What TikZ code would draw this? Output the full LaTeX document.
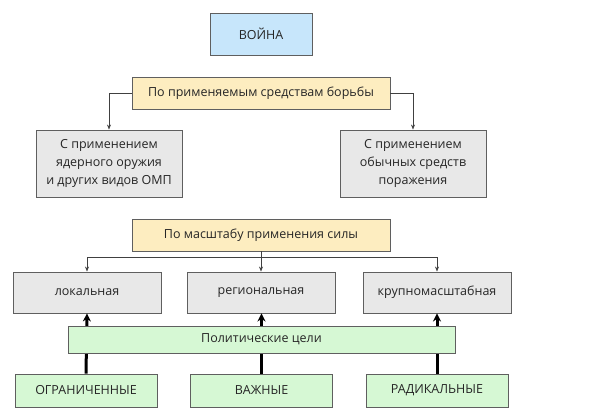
\documentclass[tikz,border=0pt]{standalone}
\usepackage{fontspec}
\setmainfont{Open Sans}
\usetikzlibrary{arrows.meta}
\definecolor{bluefill}{HTML}{C7E6FB}
\definecolor{orfill}{HTML}{FDEDC0}
\definecolor{grfill}{HTML}{E8E8E8}
\definecolor{gnfill}{HTML}{D6F8D4}
\definecolor{bord}{HTML}{5F5F5F}
\definecolor{txt}{HTML}{262626}
\tikzset{
  box/.style={draw=bord, line width=0.9pt, inner sep=0pt, align=center, text=txt, font=\fontsize{12.5}{18}\selectfont},
  thin arrow/.style={draw=black!75, line width=0.6pt, -{Stealth[length=5pt,width=4pt]}},
  thick arrow/.style={draw=black, line width=3pt, -{Stealth[length=8pt,width=8pt]}},
}
\begin{document}
\begin{tikzpicture}[x=1pt,y=-1pt]
\useasboundingbox (0,0) rectangle (600,420);
\node[box, fill=bluefill, minimum width=102pt, minimum height=42pt] (war) at (261,34) {ВОЙНА};
\node[box, fill=orfill, minimum width=258pt, minimum height=32pt] (means) at (261,93) {По применяемым средствам борьбы};
\node[box, fill=grfill, minimum width=146pt, minimum height=67pt] (nuc) at (109,163.5) {С применением\\ядерного оружия\\и других видов ОМП};
\node[box, fill=grfill, minimum width=146pt, minimum height=67pt] (conv) at (413,163.5) {С применением\\обычных средств\\поражения};
\node[box, fill=orfill, minimum width=258pt, minimum height=32pt] (scale) at (261,235) {По масштабу применения силы};
\node[box, fill=grfill, minimum width=148pt, minimum height=41pt] (loc) at (87,292.5) {локальная};
\node[box, fill=grfill, minimum width=148pt, minimum height=41pt] (reg) at (261,292.5) {региональная};
\node[box, fill=grfill, minimum width=148pt, minimum height=41pt] (big) at (437,292.5) {крупномасштабная};
\node[box, fill=gnfill, minimum width=142pt, minimum height=33pt] (lim) at (86,390.5) {ОГРАНИЧЕННЫЕ};
\node[box, fill=gnfill, minimum width=142pt, minimum height=33pt] (imp) at (261.5,390.5) {ВАЖНЫЕ};
\node[box, fill=gnfill, minimum width=142pt, minimum height=33pt] (rad) at (437,390.5) {РАДИКАЛЬНЫЕ};
% thin connectors
\draw[thin arrow] (means.west) -| (nuc.north);
\draw[thin arrow] (means.east) -| (conv.north);
\coordinate (split) at (261,257);
\draw[draw=black!75, line width=0.6pt] (scale.south) -- (split);
\draw[thin arrow] (split) -| (loc.north);
\draw[thin arrow] (split) -- (reg.north);
\draw[thin arrow] (split) -| (big.north);
% thick arrows
\draw[thick arrow] (lim.north) -- (loc.south);
\draw[thick arrow] (imp.north) -- (imp.north |- reg.south);
\draw[thick arrow] (rad.north) -- (big.south);
% politics box drawn over the thick arrows
\node[box, fill=gnfill, minimum width=387pt, minimum height=27pt] (pol) at (261.5,339.5) {Политические цели};
\end{tikzpicture}
\end{document}
